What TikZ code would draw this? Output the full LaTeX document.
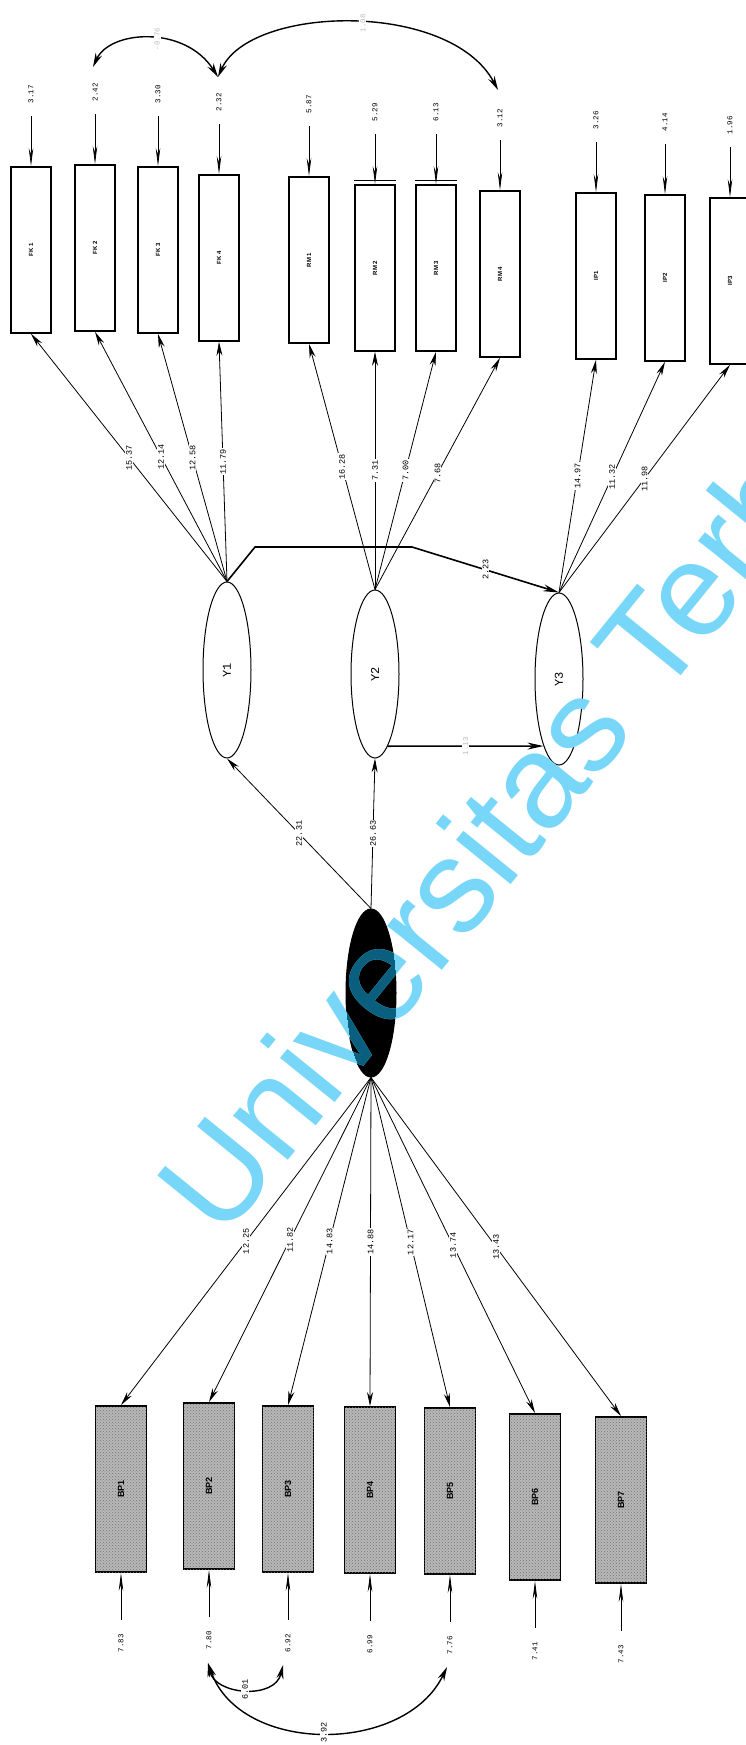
\documentclass[tikz,border=0pt]{standalone}
\usepackage{fontspec}
\setmainfont{Liberation Sans}
\setmonofont{Liberation Mono}
\usepackage{tikz}
\usetikzlibrary{shapes.geometric, arrows.meta, patterns}
\definecolor{watermark}{HTML}{78D7F9}
\definecolor{watermarkdark}{HTML}{0A5F7E}
\definecolor{fadedlabel}{HTML}{BDBDBD}

\begin{document}
\begin{tikzpicture}[
    x=1pt, y=-1pt,
    indicator/.style={rectangle, draw, line width=1.6pt, minimum width=40pt,
                      minimum height=166pt, inner sep=0pt,
                      font=\fontsize{6}{7}\selectfont\bfseries},
    cause/.style={rectangle, draw, line width=1.8pt, minimum width=51pt,
                  minimum height=166pt, inner sep=0pt, fill=black!28,
                  postaction={pattern=crosshatch dots, pattern color=black!55},
                  font=\fontsize{9}{10}\selectfont\bfseries},
    latent/.style={ellipse, draw, line width=1pt, minimum width=48pt,
                   inner sep=0pt, font=\fontsize{12}{12}\ttfamily},
    loading/.style={-{Stealth[length=14pt, width=6pt]}, line width=0.8pt},
    effect/.style={-{Stealth[length=16pt, width=7pt]}, line width=1.6pt},
    disturb/.style={-{Stealth[length=18pt, width=4.5pt]}, line width=0.8pt},
    cov/.style={{Stealth[length=14pt, width=7pt]}-{Stealth[length=14pt, width=7pt]},
                line width=1.4pt},
    coef/.style={fill=white, inner sep=1pt, rotate=90,
                 font=\fontsize{8.5}{9}\ttfamily},
    errlabel/.style={inner sep=1pt, rotate=90, font=\fontsize{7.5}{8}\ttfamily},
    faded/.style={fill=white, inner sep=1pt, rotate=90, text=fadedlabel,
                  font=\fontsize{7.5}{8}\ttfamily},
    wm/.style={rotate=51, anchor=base west, inner sep=0pt, text=watermark,
               font=\fontsize{133}{133}\selectfont}
]

\useasboundingbox (0,0) rectangle (746,1745);
\fill[white] (0,0) rectangle (746,1745);

% Indicators (top)
\node[indicator] (FK1) at (31,250) {\rotatebox{90}{FK 1}};
\node[indicator] (FK2) at (95,248) {\rotatebox{90}{FK 2}};
\node[indicator] (FK3) at (158,250) {\rotatebox{90}{FK 3}};
\node[indicator] (FK4) at (219,258) {\rotatebox{90}{FK 4}};
\node[indicator] (RM1) at (309,260) {\rotatebox{90}{RM 1}};
\node[indicator] (RM2) at (375,268) {\rotatebox{90}{RM 2}};
\node[indicator] (RM3) at (436,268) {\rotatebox{90}{RM 3}};
\node[indicator] (RM4) at (500,274) {\rotatebox{90}{RM 4}};
\node[indicator] (IP1) at (596,276) {\rotatebox{90}{IP1}};
\node[indicator] (IP2) at (665,278) {\rotatebox{90}{IP2}};
\node[indicator] (IP3) at (730,281) {\rotatebox{90}{IP3}};
\draw[line width=0.6pt] ([yshift=4pt]RM2.north west) -- ([yshift=4pt]RM2.north east);
\draw[line width=0.6pt] ([yshift=4pt]RM3.north west) -- ([yshift=4pt]RM3.north east);

% Latent variables
\node[latent, minimum height=176pt] (Y1) at (227,670) {\rotatebox{90}{Y1}};
\node[latent, minimum height=168pt] (Y2) at (375,674) {\rotatebox{90}{Y2}};
\node[latent, minimum height=172pt] (Y3) at (559,679) {\rotatebox{90}{Y3}};
\node[latent, fill=black, minimum width=50pt, minimum height=168pt] (ksi) at (371,993) {};

% Indicators (bottom)
\node[cause] (BP1) at (121,1489) {\rotatebox{90}{BP1}};
\node[cause] (BP2) at (209,1486) {\rotatebox{90}{BP2}};
\node[cause] (BP3) at (288,1489) {\rotatebox{90}{BP3}};
\node[cause] (BP4) at (370,1490) {\rotatebox{90}{BP4}};
\node[cause] (BP5) at (450,1491) {\rotatebox{90}{BP5}};
\node[cause] (BP6) at (535,1497) {\rotatebox{90}{BP6}};
\node[cause] (BP7) at (621,1500) {\rotatebox{90}{BP7}};

% Error terms
\foreach \ind/\val in {FK1/3.17, FK2/2.42, FK3/3.30, FK4/2.32, RM1/5.87, RM2/5.29,
                       RM3/6.13, RM4/3.12, IP1/3.26, IP2/4.14, IP3/1.96} {
    \coordinate (e\ind) at ([yshift=50pt]\ind.north);
    \draw[disturb] (e\ind) -- (\ind.north);
    \node[errlabel, anchor=west] (l\ind) at ([yshift=12pt]e\ind) {\val};
}
\foreach \ind/\val in {BP1/7.83, BP2/7.80, BP3/6.92, BP4/6.99, BP5/7.76,
                       BP6/7.41, BP7/7.43} {
    \coordinate (e\ind) at ([yshift=-47pt]\ind.south);
    \draw[disturb] (e\ind) -- (\ind.south);
    \node[errlabel, anchor=east] (l\ind) at ([yshift=-13pt]e\ind) {\val};
}

% Loadings
\foreach \ind/\val in {FK1/15.37, FK2/12.14, FK3/12.58, FK4/11.79}
    \draw[loading] (Y1.north) -- node[coef] {\val} (\ind.south);
\foreach \ind/\val in {RM1/16.28, RM2/7.31, RM3/7.00, RM4/7.68}
    \draw[loading] (Y2.north) -- node[coef] {\val} (\ind.south);
\foreach \ind/\val in {IP1/14.97, IP2/11.32, IP3/11.98}
    \draw[loading] (Y3.north) -- node[coef] {\val} (\ind.south);
\foreach \ind/\val in {BP1/12.25, BP2/11.82, BP3/14.83, BP4/14.88, BP5/12.17,
                       BP6/13.74, BP7/13.43}
    \draw[loading] (ksi.south) -- node[coef] {\val} (\ind.north);

% Structural paths
\draw[loading] (ksi.north) -- node[coef] {22.31} (Y1.south);
\draw[loading] (ksi.north) -- node[coef] {26.63} (Y2.south);
\coordinate (bendA) at (255,547);
\coordinate (bendB) at (412,547);
\draw[effect] (Y1.north) -- (bendA) -- (bendB) -- node[coef] {2.23} (Y3.north);
\draw[effect] (Y2.-80) -- node[faded] {1.13} (Y3.-103);

% Covariances
\coordinate (cFK2) at (93,67);
\coordinate (cFK4) at (218,77);
\coordinate (cRM4) at (498,90);
\draw[cov] (cFK2) .. controls (110,30) and (185,25) .. node[faded, pos=0.55] {-0.76} (cFK4);
\draw[cov] (cFK4) .. controls (250,5) and (450,0) .. node[faded, pos=0.53] {1.08} (cRM4);
\coordinate (cBP2) at (208,1663);
\coordinate (cBP3) at (283,1665);
\coordinate (cBP5) at (447,1667);
\draw[cov] (cBP2) .. controls (215,1695) and (275,1700) .. node[coef] {6.01} (cBP3);
\draw[cov] (cBP2) .. controls (240,1755) and (405,1755) .. node[coef] {3.92} (cBP5);

% Watermark
\node[wm] (brand) at (222,1242) {Universitas Terbuka};
\begin{scope}
    \clip (ksi.center) ellipse [x radius=25pt, y radius=84pt];
    \node[wm, text=watermarkdark] at (222,1242) {Universitas Terbuka};
\end{scope}

\end{tikzpicture}
\end{document}
